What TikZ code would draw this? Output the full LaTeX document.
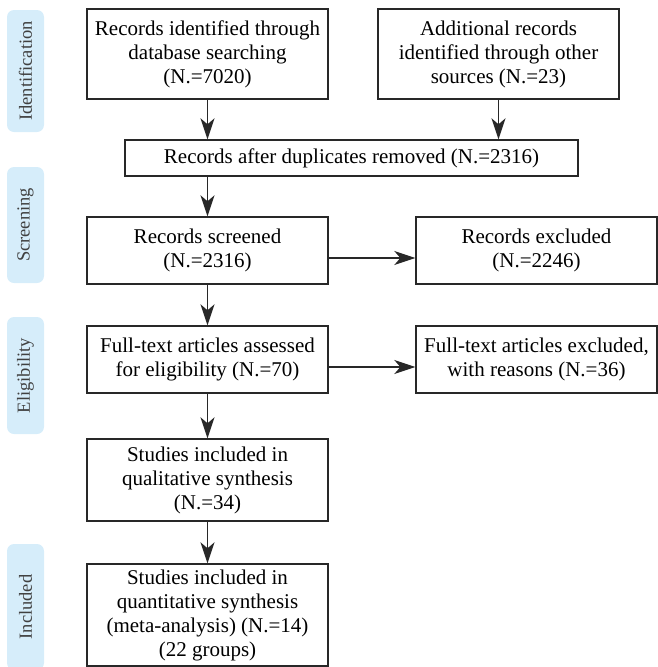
\documentclass[tikz,border=0pt]{standalone}
\usepackage{fontspec}
\setmainfont{Liberation Serif}
\usetikzlibrary{arrows.meta,positioning}
\definecolor{TabBlue}{RGB}{214,237,250}
\definecolor{LineGray}{RGB}{40,40,40}

\begin{document}
\begin{tikzpicture}[x=1pt, y=-1pt,
		box/.style={draw=LineGray, line width=1.4pt, align=center, inner sep=0pt,
			minimum width=241pt, font=\fontsize{21}{24}\selectfont},
		tab/.style={fill=TabBlue, rounded corners=7pt, rotate=90, inner sep=0pt,
			minimum height=37pt, text=black!75, font=\fontsize{18.5}{22}\selectfont},
		flow/.style={draw=LineGray, line width=1.4pt, -{Stealth[length=21pt,width=14pt,inset=6pt]}}]
	\useasboundingbox (0,0) rectangle (658,667);
	% phase tabs
	\foreach \n/\yc/\len/\lab in {tid/71/122/Identification, tscr/225/116/Screening,
		tel/375.5/117/Eligibility, tinc/607/126/Included}
		\node[tab, minimum width=\len pt] (\n) at (25.5,\yc) {\lab};
	
	\node[box, minimum height=90pt] (db) at (207.5,54) {Records identified through\\database searching\\(N.=7020)};
	\node[box, minimum height=90pt] (other) at (498.5,54) {Additional records\\identified through other\\sources (N.=23)};
	\node[box, minimum width=453pt, minimum height=36pt] (dup) at (351.5,158) {Records after duplicates removed (N.=2316)};
	\node[box, minimum height=67pt] (screen) at (207.5,250.5) {Records screened\\(N.=2316)};
	\node[box, minimum height=67pt] (excl) at (536.5,250.5) {Records excluded\\(N.=2246)};
	\node[box, minimum height=67pt] (full) at (207.5,359.5) {Full-text articles assessed\\for eligibility (N.=70)};
	\node[box, minimum height=67pt] (fullexcl) at (536.5,359.5) {Full-text articles excluded,\\with reasons (N.=36)};
	\node[box, minimum height=82pt] (qual) at (207.5,480) {Studies included in\\qualitative synthesis\\(N.=34)};
	\node[box, minimum height=102pt] (quant) at (207.5,615) {Studies included in\\quantitative synthesis\\(meta-analysis) (N.=14)\\(22 groups)};
	
	\draw[flow] (db) -- (db |- dup.north);
	\draw[flow] (other) -- (other |- dup.north);
	\draw[flow] (dup.south -| screen) -- (screen);
	\draw[flow] ([yshift=-7.5pt]screen.east) -- ([yshift=-7.5pt]screen.east -| excl.west);
	\draw[flow] (screen) -- (full);
	\draw[flow] ([yshift=-7.5pt]full.east) -- ([yshift=-7.5pt]full.east -| fullexcl.west);
	\draw[flow] (full) -- (qual);
	\draw[flow] (qual) -- (quant);
\end{tikzpicture}
\end{document}
